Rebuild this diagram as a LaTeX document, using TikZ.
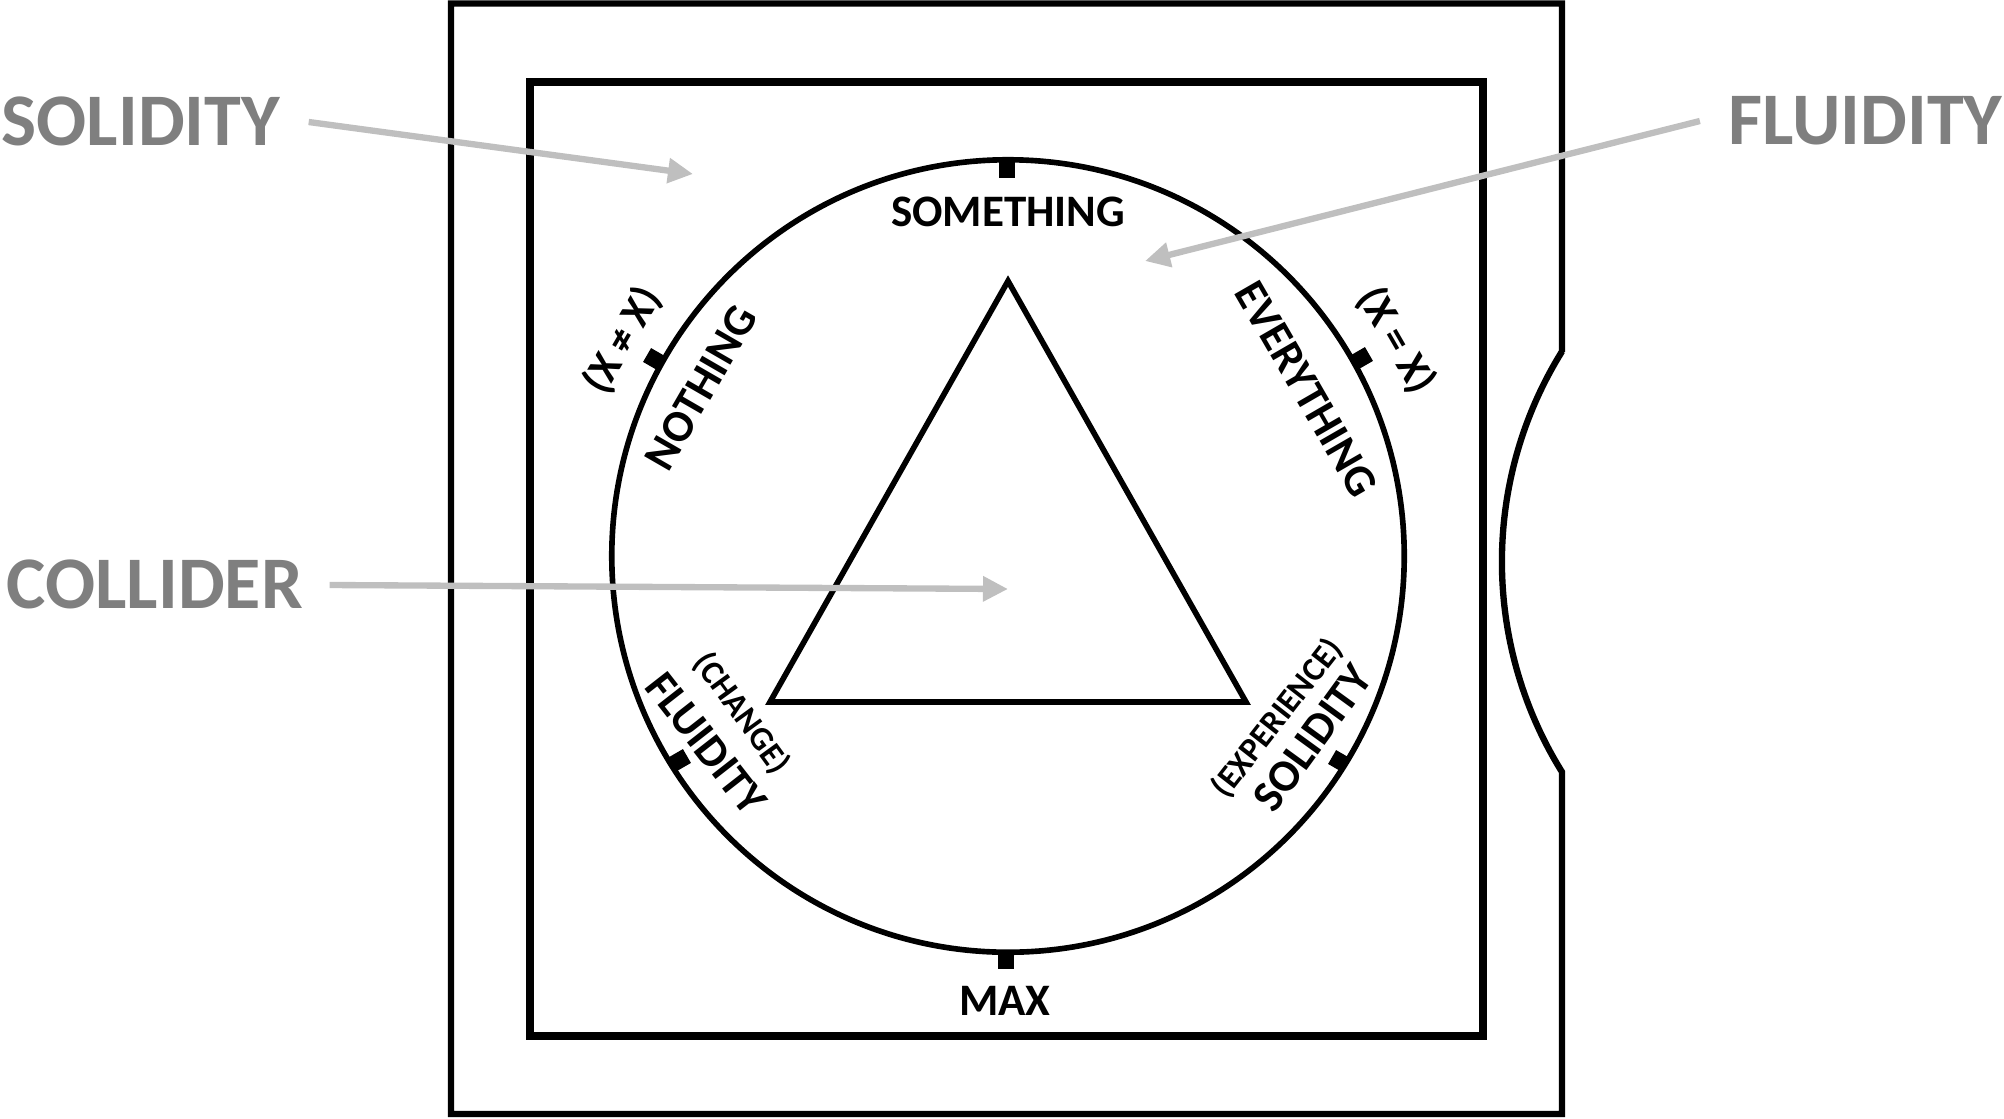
\documentclass[tikz,border=0pt]{standalone}
\usepackage{fontspec}
\setmainfont{Carlito}
\usetikzlibrary{arrows.meta}
\definecolor{labelgray}{RGB}{127,127,127}
\definecolor{arrowgray}{RGB}{191,191,191}
\begin{document}
\begin{tikzpicture}[x=0.01cm,y=-0.01cm,
  outerpen/.style={line width=1.8pt, line join=miter},
  innerpen/.style={line width=2.5pt},
  shapepen/.style={line width=1.6pt},
  biglabel/.style={font=\fontsize{21.1}{24}\selectfont\bfseries, text=labelgray, inner sep=0pt, text height=13.35pt, text depth=0pt},
  ringlabel/.style={font=\fontsize{12.8}{15}\selectfont\bfseries, inner sep=0pt, text height=8.1pt, text depth=0pt},
  eqlabel/.style={font=\fontsize{12.2}{14}\selectfont\bfseries, inner sep=0pt, text height=7.7pt, text depth=0pt},
  parenlabel/.style={font=\fontsize{9.5}{11}\selectfont\bfseries, inner sep=0pt, text height=6pt, text depth=0pt},
  pointer/.style={draw=arrowgray, line width=1.8pt, -{Triangle[length=0.25cm,width=0.24cm]}},
  ticksq/.style={fill=black, minimum size=0.16cm, inner sep=0pt, draw=none},
]
\useasboundingbox (0,0) rectangle (2004,1118);
% outer frame with notch
\draw[outerpen] (1562,352) -- (1562,3.5) -- (451,3.5) -- (451,1114) -- (1562,1114) -- (1562,772)
  arc[start angle=148.1, end angle=211.9, radius=398] -- cycle;
% inner frame
\draw[innerpen] (530,82) rectangle (1483,1036);
% circle
\node[draw, circle, line width=1.6pt, minimum size=7.92cm, inner sep=0pt] (ring) at (1008,556) {};
% triangle
\coordinate (apex) at (1008,281);
\coordinate (bright) at (1246,702);
\coordinate (bleft) at (770,702);
\draw[shapepen] (apex) -- (bright) -- (bleft) -- cycle;
% ticks
\node[ticksq] (t90) at (1007,170) {};
\node[ticksq] (t270) at (1006,961) {};
\node[ticksq, rotate=60] (t150) at (654,359) {};
\node[ticksq, rotate=-60] (t30) at (1362,358) {};
\node[ticksq, rotate=-60] (t210) at (680,760) {};
\node[ticksq, rotate=60] (t330) at (1339,761) {};
% ring labels
\node[ringlabel] (something) at (1008,212) {SOMETHING};
\node[ringlabel] (max) at (1005,1001) {MAX};
\node[ringlabel, rotate=60] (nothing) at (701,388) {NOTHING};
\node[eqlabel, rotate=60] (neq) at (622,340) {(X ≠ X)};
\node[ringlabel, rotate=-60] (everything) at (1306,389) {EVERYTHING};
\node[eqlabel, rotate=-60] (eq) at (1397,340) {(X = X)};
\node[ringlabel, rotate=-52] (fluid2) at (706,744) {FLUIDITY};
\node[parenlabel, rotate=-54] (change) at (742,713) {(CHANGE)};
\node[ringlabel, rotate=54] (solid2) at (1313,738) {SOLIDITY};
\node[parenlabel, rotate=52] (experience) at (1277,718) {(EXPERIENCE)};
% outside labels
\node[biglabel, anchor=west] (solidity) at (1,122) {SOLIDITY};
\node[biglabel, anchor=west] (collider) at (6,585) {COLLIDER};
\node[biglabel, anchor=east] (fluidity) at (2003,121) {FLUIDITY};
\coordinate (solidtip) at (693,174);
\coordinate (fluidtip) at (1145,261);
\coordinate (collidertip) at (1008,589);
\draw[pointer] ([xshift=0.28cm]solidity.east) -- (solidtip);
\draw[pointer] ([xshift=-0.28cm]fluidity.west) -- (fluidtip);
\draw[pointer] ([xshift=0.26cm]collider.east) -- (collidertip);
\end{tikzpicture}
\end{document}
